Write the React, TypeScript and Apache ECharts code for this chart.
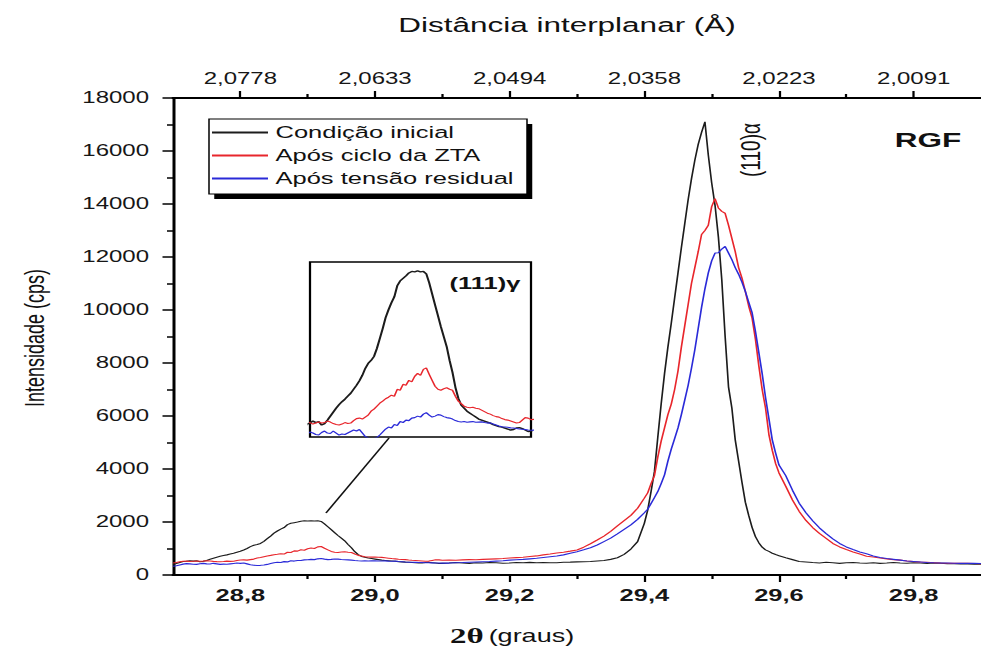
import React, { useEffect, useRef } from "react";
import * as echarts from "echarts";

// The figure is laid out in a narrow frame and widened with a horizontal scale.
const STRETCH = 1.5;
const FRAME_W = 654;
const FRAME_H = 664;
const FONT = "'Liberation Sans', Arial, sans-serif";

// 2θ sampling of the scan: [start, end, step]
const scanSegments: [number, number, number][] = [
  [28.7, 29.1, 0.005],
  [29.11, 29.4, 0.01],
  [29.405, 29.6, 0.005],
  [29.61, 29.9, 0.01],
];

function buildAngles(): number[] {
  const out: number[] = [];
  for (const [a, b, s] of scanSegments) {
    const n = Math.round((b - a) / s);
    for (let i = 0; i <= n; i++) out.push(Math.round((a + i * s) * 1000) / 1000);
  }
  return out;
}
const twoTheta = buildAngles();

// Intensity (cps), one value per 2θ sample
const condicaoInicial = [
  400, 430, 470, 510, 520, 540, 525, 535, 500, 515,
  550, 590, 630, 670, 705, 735, 760, 790, 820, 860,
  900, 945, 1000, 1070, 1120, 1150, 1190, 1270, 1370, 1470,
  1580, 1660, 1730, 1790, 1900, 1950, 1975, 2000, 2030, 2045,
  2040, 2050, 2040, 2045, 2020, 1930, 1820, 1710, 1600, 1490,
  1390, 1290, 1150, 1030, 880, 770, 700, 670, 640, 620,
  600, 580, 560, 550, 540, 530, 520, 505, 495, 485,
  480, 470, 460, 450, 455, 470, 475, 465, 450, 435,
  440,
  450, 470, 455, 440, 460, 450, 470, 460, 445, 455,
  470, 460, 475, 465, 470, 460, 465, 480, 485, 495,
  500, 510, 530, 550, 590, 650, 780, 980, 1260, 1950,
  2450, 3150, 3900, 5200, 6450, 7600, 8600, 9500, 10450, 11400,
  12350, 13250, 14150, 14950, 15650, 16250, 16700, 17100, 15850, 14800,
  13950, 12750, 11150, 9000, 7100, 6300, 5100, 4300, 3500, 2750,
  2250, 1800, 1450, 1220, 1050, 950, 890, 820, 770, 730,
  650, 580, 510, 490, 470, 455, 480, 460, 440, 465,
  470, 455, 445, 460, 440, 450, 470, 455, 445, 465,
  450, 440, 455, 445, 430, 425, 420, 415, 410, 410,
];

const aposCicloZTA = [
  450, 470, 500, 520, 525, 510, 520, 530, 520, 525,
  540, 530, 515, 505, 500, 510, 525, 515, 520, 545,
  565, 570, 560, 580, 600, 640, 660, 690, 720, 740,
  765, 780, 800, 790, 860, 850, 910, 900, 950, 935,
  990, 1020, 1000, 1060, 1075, 1010, 950, 890, 860, 850,
  865, 875, 860, 850, 790, 740, 715, 690, 680, 675,
  680, 670, 665, 650, 635, 620, 610, 595, 585, 580,
  565, 555, 550, 540, 530, 520, 525, 550, 575, 570,
  555,
  560, 555, 570, 580, 575, 590, 600, 610, 620, 640,
  655, 670, 700, 720, 760, 790, 830, 860, 900, 945,
  1050, 1180, 1320, 1470, 1650, 1850, 2050, 2250, 2520, 2900,
  3100, 3450, 3750, 4450, 5050, 5550, 6050, 6450, 7000, 7700,
  8600, 9400, 10200, 11000, 11600, 12200, 12850, 13000, 13200, 13900,
  14200, 13850, 13720, 13650, 13200, 12700, 12200, 11600, 11200, 10700,
  10150, 9700, 8900, 7900, 7000, 6300, 5300, 4700, 4200, 3850,
  3350, 2830, 2400, 2060, 1790, 1570, 1380, 1190, 1060, 960,
  870, 790, 710, 680, 640, 610, 580, 560, 530, 505,
  490, 480, 465, 450, 445, 440, 438, 440, 435, 430,
];

const aposTensaoResidual = [
  330, 350, 380, 410, 430, 420, 405, 400, 425, 440,
  420, 415, 440, 420, 400, 410, 405, 420, 435, 450,
  440, 455, 420, 385, 370, 360, 365, 375, 400, 430,
  460, 480, 470, 505, 495, 535, 525, 550, 545, 570,
  575, 590, 580, 610, 625, 600, 580, 590, 605, 600,
  585, 575, 570, 560, 545, 535, 530, 535, 528, 532,
  535, 528, 530, 532, 525, 520, 522, 510, 500, 490,
  482, 480, 478, 472, 470, 465, 460, 458, 455, 450,
  448,
  450, 465, 470, 480, 490, 500, 510, 525, 540, 560,
  575, 590, 610, 630, 660, 690, 715, 760, 820, 880,
  950, 1025, 1130, 1260, 1390, 1550, 1720, 1890, 2100, 2350,
  2480, 2700, 2920, 3150, 3450, 3780, 4300, 4750, 5150, 5550,
  6050, 6600, 7150, 7800, 8500, 9300, 10100, 10800, 11400, 11850,
  12150, 12160, 12300, 12400, 12150, 11900, 11600, 11350, 11050, 10700,
  10300, 9900, 9200, 8400, 7600, 6700, 5900, 5100, 4600, 4150,
  3750, 3200, 2710, 2350, 2050, 1780, 1560, 1360, 1190, 1060,
  960, 870, 800, 720, 660, 620, 590, 560, 530, 510,
  490, 470, 460, 455, 450, 445, 440, 440, 438, 435,
];

const seriesNames = ["Condição inicial", "Após ciclo da ZTA", "Após tensão residual"];
const seriesColors = ["#1c1c1c", "#e8262c", "#2a2ad8"];
const seriesValues = [condicaoInicial, aposCicloZTA, aposTensaoResidual];

// Axis ticks and labels
const majorTicks = [28.8, 29.0, 29.2, 29.4, 29.6, 29.8];
const minorTicks = [28.9, 29.1, 29.3, 29.5, 29.7];
const bottomTickLabels = ["28,8", "29,0", "29,2", "29,4", "29,6", "29,8"];
const topTickLabels = ["2,0778", "2,0633", "2,0494", "2,0358", "2,0223", "2,0091"];
const xRange = [28.7, 29.9];
const yRange = [0, 18000];
const yStep = 2000;
// magnified window around the (111)γ reflection
const insetXRange = [28.72, 29.1];
const insetYRange = [380, 2140];

function tickLabel(labels: string[]) {
  return (v: number) => {
    const i = majorTicks.findIndex((t) => Math.abs(t - v) < 1e-6);
    return i >= 0 ? labels[i] : "";
  };
}

const px = (outerX: number) => outerX / STRETCH;

export default function App() {
  const ref = useRef<HTMLDivElement>(null);

  useEffect(() => {
    if (!ref.current) return;
    const chart = echarts.init(ref.current, undefined, { renderer: "svg" });

    const pairs = seriesValues.map((vals) => twoTheta.map((x, i) => [x, vals[i]]));

    const tickLine = { color: "#000", width: 1.5 };
    const mainSeries = pairs.map((data, k) => ({
      name: seriesNames[k],
      type: "line",
      xAxisIndex: 0,
      yAxisIndex: 0,
      data,
      showSymbol: false,
      lineStyle: { color: seriesColors[k], width: 1.1 },
      itemStyle: { color: seriesColors[k] },
      z: 3 + k,
    }));
    const insetSeries = pairs.map((data, k) => ({
      name: seriesNames[k],
      type: "line",
      xAxisIndex: 4,
      yAxisIndex: 1,
      data,
      clip: true,
      showSymbol: false,
      lineStyle: { color: seriesColors[k], width: k === 0 ? 1.4 : 1.1 },
      itemStyle: { color: seriesColors[k] },
      z: 3 + k,
    }));

    const gridLeft = px(173);
    const gridRight = px(986);

    chart.setOption({
      animation: false,
      backgroundColor: "#ffffff",
      textStyle: { fontFamily: FONT },
      grid: [
        { left: gridLeft, top: 98, width: gridRight - gridLeft, height: 477 },
        {
          left: px(310),
          top: 262,
          width: px(531) - px(310),
          height: 175,
          show: true,
          borderColor: "#000",
          borderWidth: 1.5,
          backgroundColor: "rgba(255,255,255,0)",
        },
      ],
      xAxis: [
        {
          gridIndex: 0,
          type: "value",
          position: "bottom",
          min: xRange[0],
          max: xRange[1],
          axisLine: { show: true, lineStyle: { color: "#000", width: 2 } },
          axisTick: { show: true, customValues: majorTicks, length: 7, lineStyle: tickLine },
          axisLabel: {
            customValues: majorTicks,
            formatter: tickLabel(bottomTickLabels),
            fontSize: 17,
            fontWeight: "bold",
            color: "#161616",
            margin: 12,
          },
          splitLine: { show: false },
        },
        {
          gridIndex: 0,
          type: "value",
          position: "bottom",
          min: xRange[0],
          max: xRange[1],
          axisLine: { show: false },
          axisTick: { show: true, customValues: minorTicks, length: 4, lineStyle: tickLine },
          axisLabel: { show: false },
          splitLine: { show: false },
        },
        {
          gridIndex: 0,
          type: "value",
          position: "top",
          min: xRange[0],
          max: xRange[1],
          axisLine: { show: true, lineStyle: { color: "#000", width: 2 } },
          axisTick: { show: true, customValues: majorTicks, length: 7, lineStyle: tickLine },
          axisLabel: {
            customValues: majorTicks,
            formatter: tickLabel(topTickLabels),
            fontSize: 16,
            color: "#161616",
            margin: 11,
          },
          splitLine: { show: false },
        },
        {
          gridIndex: 0,
          type: "value",
          position: "top",
          min: xRange[0],
          max: xRange[1],
          axisLine: { show: false },
          axisTick: { show: true, customValues: minorTicks, length: 4, lineStyle: tickLine },
          axisLabel: { show: false },
          splitLine: { show: false },
        },
        {
          gridIndex: 1,
          type: "value",
          min: insetXRange[0],
          max: insetXRange[1],
          show: false,
        },
      ],
      yAxis: [
        {
          gridIndex: 0,
          type: "value",
          min: yRange[0],
          max: yRange[1],
          interval: yStep,
          axisLine: { show: true, lineStyle: { color: "#000", width: 2 } },
          axisTick: { show: true, length: 7, lineStyle: tickLine },
          minorTick: { show: true, splitNumber: 2, length: 4, lineStyle: tickLine },
          axisLabel: {
            formatter: (v: number) => String(v),
            fontSize: 16,
            color: "#161616",
            margin: 16,
          },
          splitLine: { show: false },
        },
        {
          gridIndex: 1,
          type: "value",
          min: insetYRange[0],
          max: insetYRange[1],
          show: false,
        },
      ],
      legend: {
        data: seriesNames,
        orient: "vertical",
        left: px(212),
        top: 124,
        padding: 0,
        itemWidth: px(268) - px(212),
        itemHeight: 2,
        itemGap: 6,
        icon: "rect",
        selectedMode: false,
        z: 10,
        textStyle: { fontSize: 17, lineHeight: 17, color: "#111", fontFamily: FONT },
      },
      graphic: [
        {
          type: "rect",
          z: 1,
          shape: { x: px(209) + 3.5, y: 119 + 5, width: px(527) - px(209), height: 75 },
          style: { fill: "#000" },
        },
        {
          type: "rect",
          z: 2,
          shape: { x: px(209), y: 119, width: px(527) - px(209), height: 75 },
          style: { fill: "#fff", stroke: "#000", lineWidth: 1 },
        },
        {
          type: "text",
          x: px(928),
          y: 140,
          style: {
            text: "RGF",
            fontSize: 21,
            fontWeight: "bold",
            fontFamily: FONT,
            fill: "#111",
            align: "center",
            verticalAlign: "middle",
            textAlign: "center",
            textVerticalAlign: "middle",
          },
        },
        {
          type: "text",
          x: px(750),
          y: 150,
          rotation: Math.PI / 2,
          style: {
            text: "(110)α",
            fontSize: 19,
            fontFamily: FONT,
            fill: "#111",
            align: "center",
            verticalAlign: "middle",
            textAlign: "center",
            textVerticalAlign: "middle",
          },
        },
        {
          type: "text",
          x: px(485),
          y: 283,
          z: 20,
          style: {
            text: "(111)γ",
            fontSize: 17,
            fontWeight: "bold",
            fontFamily: FONT,
            fill: "#111",
            align: "center",
            verticalAlign: "middle",
            textAlign: "center",
            textVerticalAlign: "middle",
          },
        },
        {
          type: "line",
          shape: { x1: px(326), y1: 513, x2: px(389), y2: 438 },
          style: { stroke: "#111", lineWidth: 1.2 },
        },
        {
          type: "text",
          x: px(35),
          y: 338,
          rotation: Math.PI / 2,
          style: {
            text: "Intensidade (cps)",
            fontSize: 18,
            fontFamily: FONT,
            fill: "#111",
            align: "center",
            verticalAlign: "middle",
            textAlign: "center",
            textVerticalAlign: "middle",
          },
        },
        {
          type: "text",
          x: px(567),
          y: 25,
          style: {
            text: "Distância interplanar (Å)",
            fontSize: 21,
            fontFamily: FONT,
            fill: "#111",
            align: "center",
            verticalAlign: "middle",
            textAlign: "center",
            textVerticalAlign: "middle",
          },
        },
        {
          type: "text",
          x: px(512),
          y: 636,
          style: {
            text: "{a|2θ} {b|(graus)}",
            fill: "#111",
            align: "center",
            verticalAlign: "middle",
            textAlign: "center",
            textVerticalAlign: "middle",
            rich: {
              a: { fontSize: 22, fontWeight: "bold", fontFamily: "'Liberation Serif', serif", fill: "#111" },
              b: { fontSize: 18, fontFamily: FONT, fill: "#111" },
            },
          },
        },
      ],
      series: [...mainSeries, ...insetSeries],
    });

    return () => chart.dispose();
  }, []);

  return (
    <div
      ref={ref}
      style={{
        position: "fixed",
        left: 0,
        top: 0,
        width: FRAME_W,
        height: FRAME_H,
        transform: `scaleX(${STRETCH})`,
        transformOrigin: "0 0",
        background: "#fff",
      }}
    />
  );
}
